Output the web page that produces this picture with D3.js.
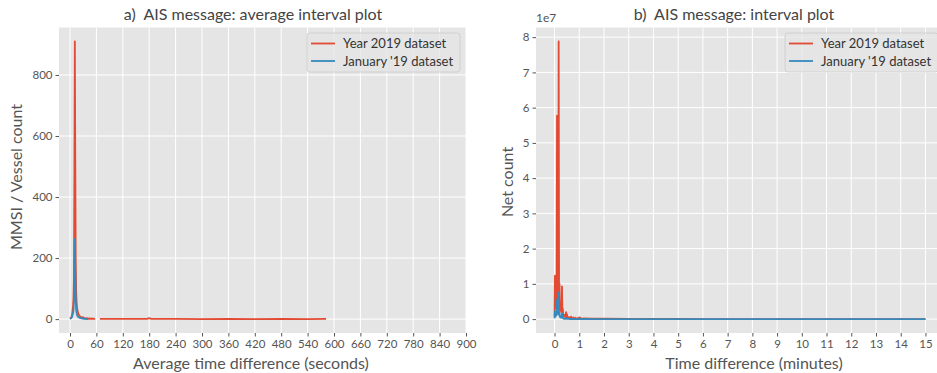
<!DOCTYPE html>
<html>
<head>
<meta charset="utf-8">
<script src="https://cdn.jsdelivr.net/npm/d3@7"></script>
<style>
  html, body { margin: 0; padding: 0; background: #ffffff; }
  svg { display: block; font-family: Lato, "Open Sans", sans-serif; }
  svg text { white-space: pre; }
</style>
</head>
<body>
<svg id="chart" width="937" height="373"></svg>
<script>
// ---- Panel a: vessels by average message interval (seconds) ----
// null marks a gap in the series
const yearAvgSec = [0,1,2,3,4,5,6,7,8,9,10,11,12,13,14,15,16,17,18,19,20,21,22,23,24,25,26,27,28,29,30,31,32,33,34,35,36,37,38,39,40,41,42,43,44,45,46,47,48,49,50,51,52,53,54,55,56,57,62,68,90,120,150,175,180,185,240,300,360,420,480,540,582];
const yearAvgCount = [1,2,4,6,10,18,30,45,70,140,480,910,520,190,90,55,38,28,22,18,15,12,10,9,8,7,6,6,5,5,6,4,4,3,3,3,2,3,2,2,3,2,1,2,1,2,1,1,2,1,1,1,2,1,1,1,1,2,null,1,1,1,1,1,3,1,1,0,1,0,1,0,1];
const janAvgSec = [0,1,2,3,4,5,6,7,8,9,10,11,12,13,14,15,16,17,18,19,20,21,22,23,24,25,26,27,28,29,30,31,32,33,34,35,36,37,38,39,40];
const janAvgCount = [1,2,3,4,6,9,14,20,30,60,170,262,150,60,30,20,14,10,8,7,6,5,4,4,3,3,3,2,2,2,2,1,2,1,1,1,1,1,1,0,1];
const avgTicks = [0,60,120,180,240,300,360,420,480,540,600,660,720,780,840,900];
const avgYTicks = [0,200,400,600,800];

// ---- Panel b: message count by interval (seconds, shown in minutes) ----
const intervalSec = [0,1,2,3,4,5,6,7,8,9,10,11,12,13,14,15,16,17,18,19,20,21,22,23,24,25,26,27,28,29,30,31,32,33,34,35,36,37,38,39,40,41,42,43,44,45,46,47,48,49,50,51,52,53,54,55,56,57,58,59,60,66,72,90,120,180,240,300,360,420,480,540,600,660,720,780,840,900];
const yearNet = [0.08e7,1.23e7,0.3e7,1.18e7,0.4e7,0.5e7,5.77e7,0.8e7,0.55e7,0.9e7,7.88e7,0.6e7,1.0e7,0.3e7,0.25e7,0.45e7,0.2e7,0.25e7,0.93e7,0.25e7,0.3e7,0.12e7,0.1e7,0.08e7,0.12e7,0.07e7,0.06e7,0.08e7,0.2e7,0.06e7,0.14e7,0.04e7,0.03e7,0.03e7,0.03e7,0.06e7,0.03e7,0.02e7,0.02e7,0.02e7,0.07e7,0.02e7,0.02e7,0.02e7,0.02e7,0.05e7,0.02e7,0.01e7,0.01e7,0.01e7,0.04e7,0.01e7,0.01e7,0.01e7,0.01e7,0.03e7,0.01e7,0.01e7,0.01e7,0.01e7,0.05e7,0.01e7,0.02e7,0.01e7,0.01e7,0.005e7,0.003e7,0.003e7,0.002e7,0.002e7,0.002e7,0.002e7,0.002e7,0.001e7,0.001e7,0.001e7,0.001e7,0.001e7];
const janNet = [0.02e7,0.22e7,0.08e7,0.2e7,0.1e7,0.12e7,0.55e7,0.2e7,0.15e7,0.25e7,0.76e7,0.12e7,0.18e7,0.06e7,0.05e7,0.08e7,0.04e7,0.04e7,0.16e7,0.04e7,0.05e7,0.02e7,0.02e7,0.01e7,0.02e7,0.01e7,0.01e7,0.01e7,0.03e7,0.01e7,0.02e7,0.01e7,0.005e7,0.005e7,0.005e7,0.01e7,0.005e7,0.003e7,0.003e7,0.003e7,0.01e7,0.003e7,0.003e7,0.003e7,0.003e7,0.008e7,0.003e7,0.002e7,0.002e7,0.002e7,0.006e7,0.002e7,0.002e7,0.002e7,0.002e7,0.004e7,0.002e7,0.002e7,0.002e7,0.002e7,0.008e7,0.002e7,0.003e7,0.002e7,0.002e7,0.001e7,0.001e7,0.001e7,0.001e7,0.001e7,0.001e7,0.001e7,0.001e7,0.001e7,0.001e7,0.001e7,0.001e7,0.001e7];
const minuteTicks = [0,1,2,3,4,5,6,7,8,9,10,11,12,13,14,15];
const netYTicks = [0,1e7,2e7,3e7,4e7,5e7,6e7,7e7,8e7];

const seriesNames = ["Year 2019 dataset", "January '19 dataset"];
const RED = "#E24A33", BLUE = "#348ABD";

const svg = d3.select("#chart");
const plotTop = 27.5, plotBottom = 333;

function panel(cfg) {
  const g = svg.append("g");
  const x = d3.scaleLinear().domain(cfg.xDomain).range([cfg.left, cfg.right]);
  const y = d3.scaleLinear().domain(cfg.yDomain).range([plotBottom, plotTop]);
  const clipId = "clip-" + cfg.id;
  svg.append("clipPath").attr("id", clipId)
    .append("rect").attr("x", cfg.left).attr("y", plotTop)
    .attr("width", cfg.right - cfg.left).attr("height", plotBottom - plotTop);

  g.append("rect").attr("x", cfg.left).attr("y", plotTop)
    .attr("width", cfg.right - cfg.left).attr("height", plotBottom - plotTop)
    .attr("fill", "#E5E5E5");

  // grid
  g.append("g").selectAll("line").data(cfg.xTicks).join("line")
    .attr("x1", d => x(d)).attr("x2", d => x(d)).attr("y1", plotTop).attr("y2", plotBottom)
    .attr("stroke", "#fff").attr("stroke-width", 1);
  g.append("g").selectAll("line").data(cfg.yTicks).join("line")
    .attr("x1", cfg.left).attr("x2", cfg.right).attr("y1", d => y(d)).attr("y2", d => y(d))
    .attr("stroke", "#fff").attr("stroke-width", 1);

  // axes
  const xa = g.append("g").attr("transform", `translate(0,${plotBottom})`)
    .call(d3.axisBottom(x).tickValues(cfg.xTicks).tickSize(3.5).tickPadding(3).tickFormat(cfg.xFormat));
  const ya = g.append("g").attr("transform", `translate(${cfg.left},0)`)
    .call(d3.axisLeft(y).tickValues(cfg.yTicks).tickSize(3.5).tickPadding(3).tickFormat(cfg.yFormat));
  [xa, ya].forEach(a => {
    a.select(".domain").remove();
    a.selectAll(".tick line").attr("stroke", "#555");
    a.selectAll(".tick text").attr("fill", "#555").style("font-size", "11.5px")
      .style("font-family", 'Lato, sans-serif');
  });

  // series
  const lines = g.append("g").attr("clip-path", `url(#${clipId})`);
  cfg.series.forEach(s => {
    const pts = s.xs.map((v, i) => [s.xf(v), s.ys[i]]);
    const line = d3.line().defined(d => d[1] != null).x(d => x(d[0])).y(d => y(d[1]));
    lines.append("path").datum(pts).attr("d", line)
      .attr("fill", "none").attr("stroke", s.color).attr("stroke-width", 1.8)
      .attr("stroke-linejoin", "round");
  });

  // legend
  const lg = g.append("g").attr("transform", `translate(${cfg.legendX},33)`);
  lg.append("rect").attr("width", 153).attr("height", 39).attr("rx", 3)
    .attr("fill", "#E5E5E5").attr("fill-opacity", 0.8).attr("stroke", "#cccccc").attr("stroke-width", 0.8);
  cfg.series.forEach((s, i) => {
    const yy = 10.5 + i * 17.5;
    lg.append("line").attr("x1", 4).attr("x2", 28).attr("y1", yy).attr("y2", yy)
      .attr("stroke", s.color).attr("stroke-width", 1.8);
    lg.append("text").attr("x", 36).attr("y", yy + 4.5).text(s.name)
      .attr("fill", "#333").style("font-size", "13px");
  });

  // titles and labels
  svg.append("text").attr("x", cfg.titleX).attr("y", 19.5).attr("text-anchor", "middle")
    .attr("fill", "#444").style("font-size", "16px").text(cfg.title);
  svg.append("text").attr("x", cfg.xLabelX).attr("y", 368.5).attr("text-anchor", "middle")
    .attr("fill", "#555").style("font-size", "16px").text(cfg.xLabel);
  svg.append("text").attr("transform", `translate(${cfg.yLabelX},${cfg.yLabelY}) rotate(-90)`)
    .attr("text-anchor", "middle").attr("fill", "#555").style("font-size", "16px").text(cfg.yLabel);
  return { x, y };
}

panel({
  id: "a", left: 59, right: 466,
  xDomain: [-25, 900], yDomain: [-45.5, 955.5],
  xTicks: avgTicks, yTicks: avgYTicks,
  xFormat: d3.format("d"), yFormat: d3.format("d"),
  legendX: 307,
  title: "a)  AIS message: average interval plot", titleX: 253,
  xLabel: "Average time difference (seconds)", xLabelX: 251,
  yLabel: "MMSI / Vessel count", yLabelX: 21.5, yLabelY: 177,
  series: [
    { name: seriesNames[0], color: RED, xs: yearAvgSec, ys: yearAvgCount, xf: v => v },
    { name: seriesNames[1], color: BLUE, xs: janAvgSec, ys: janAvgCount, xf: v => v }
  ]
});

panel({
  id: "b", left: 536, right: 944,
  xDomain: [-0.75, 15.75], yDomain: [-0.394e7, 8.274e7],
  xTicks: minuteTicks, yTicks: netYTicks,
  xFormat: d3.format("d"), yFormat: d => d3.format("d")(d / 1e7),
  legendX: 785,
  title: "b)  AIS message: interval plot", titleX: 734,
  xLabel: "Time difference (minutes)", xLabelX: 754,
  yLabel: "Net count", yLabelX: 512.5, yLabelY: 182,
  series: [
    { name: seriesNames[0], color: RED, xs: intervalSec, ys: yearNet, xf: v => v / 60 },
    { name: seriesNames[1], color: BLUE, xs: intervalSec, ys: janNet, xf: v => v / 60 }
  ]
});

// scale multiplier for panel b
svg.append("text").attr("x", 536).attr("y", 21.5).attr("fill", "#555")
  .style("font-size", "12px").text("1e7");
</script>
</body>
</html>
